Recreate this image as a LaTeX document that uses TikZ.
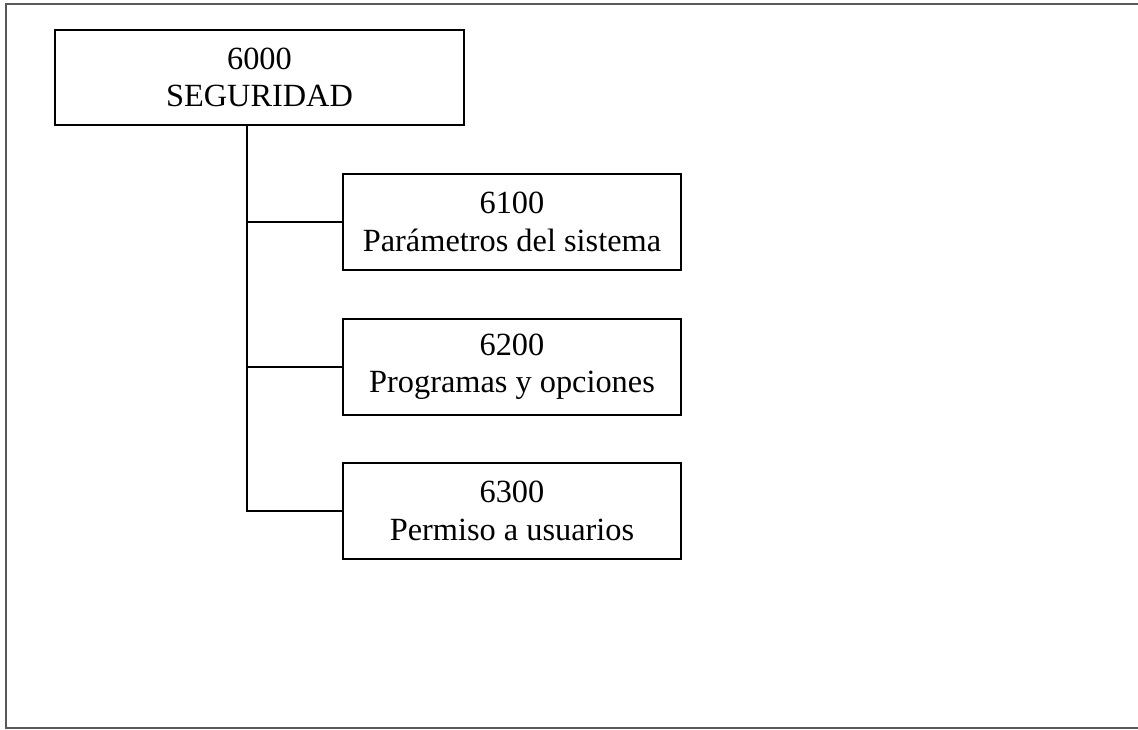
\documentclass[tikz,border=0pt]{standalone}
\usepackage{fontspec}
\setmainfont{Liberation Serif}

\begin{document}
\begin{tikzpicture}[x=0.01cm,y=-0.01cm,
    box/.style={draw=black,line width=0.45pt,align=center,inner sep=0pt,
      font=\fontsize{9.2}{10.6}\selectfont},
    frame/.style={draw=black!65,line width=0.7pt},
    link/.style={draw=black,line width=0.45pt}]
    \useasboundingbox (0,0) rectangle (1138,729);
    \draw [frame] (6,4) rectangle (1160,728);
    \node [box,minimum width=4.09cm,minimum height=0.95cm] (seg) at (259.5,77.5) {6000\\SEGURIDAD};
    \node [box,minimum width=3.38cm,minimum height=0.96cm] (par) at (512,222) {6100\\Parámetros del sistema};
    \node [box,minimum width=3.38cm,minimum height=0.96cm] (pro) at (512,367) {6200\\Programas y opciones};
    \node [box,minimum width=3.38cm,minimum height=0.96cm] (per) at (512,511) {6300\\Permiso a usuarios};
    \coordinate (spine) at (247,125);
    \draw [link] (spine |- seg.south) -- (spine |- per.west) -- (per.west);
    \draw [link] (spine |- par.west) -- (par.west);
    \draw [link] (spine |- pro.west) -- (pro.west);
\end{tikzpicture}
\end{document}
